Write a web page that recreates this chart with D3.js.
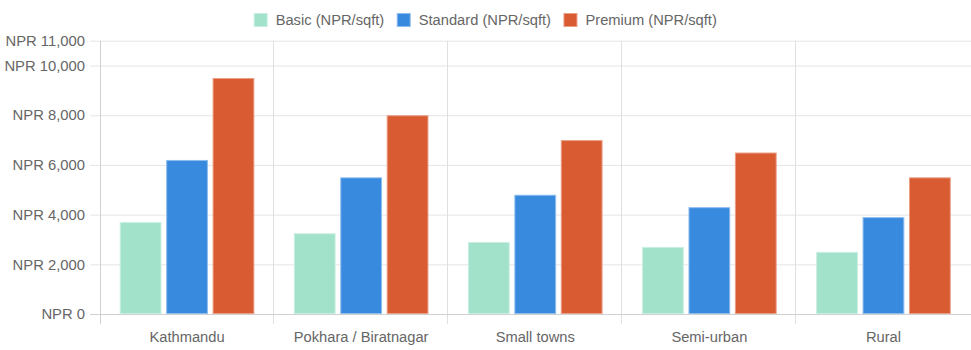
<!DOCTYPE html>
<html>
<head>
<meta charset="utf-8">
<script src="https://cdn.jsdelivr.net/npm/d3@7"></script>
<style>
  html, body { margin: 0; padding: 0; background: #fff; }
  svg { display: block; font-family: "Liberation Sans", Arial, Helvetica, sans-serif; }
</style>
</head>
<body>
<svg id="chart" width="971" height="350"></svg>
<script>
// Construction cost per square foot by location
const categories = ["Kathmandu", "Pokhara / Biratnagar", "Small towns", "Semi-urban", "Rural"];
const basic = [3700, 3250, 2900, 2700, 2500];
const standard = [6200, 5500, 4800, 4300, 3900];
const premium = [9500, 8000, 7000, 6500, 5500];
const seriesNames = ["Basic (NPR/sqft)", "Standard (NPR/sqft)", "Premium (NPR/sqft)"];
const yTicks = [0, 2000, 4000, 6000, 8000, 10000, 11000];

const colors = ["#a2e2cb", "#388ade", "#d95b32"];
const borders = ["#c8efe1", "#8fbdee", "#ea9f86"];

const W = 971, H = 350;
const m = { left: 100, right: 0.5, top: 40.7, bottom: 36 };
const svg = d3.select("#chart");

const x0 = d3.scaleBand().domain(categories).range([m.left, W - m.right]).paddingInner(0).paddingOuter(0);
const x1 = d3.scaleBand().domain(d3.range(3))
  .range([x0.bandwidth() * 0.1, x0.bandwidth() * 0.9]).paddingInner(0.1).paddingOuter(0.05);
const y = d3.scaleLinear().domain([0, 11000]).range([H - m.bottom, m.top]);

const fmt = v => "NPR " + d3.format(",")(v);

// horizontal grid with value labels
const gy = svg.append("g").attr("transform", `translate(${m.left},0)`)
  .call(d3.axisLeft(y).tickValues(yTicks).tickFormat(fmt).tickSize(10).tickPadding(5));
gy.select(".domain").remove();
gy.selectAll(".tick line").attr("stroke", "#e5e5e5").attr("x1", -10).attr("x2", W - m.left);
gy.selectAll(".tick text").attr("fill", "#666").attr("font-size", "14.8px")
  .attr("font-family", "Liberation Sans, Arial, sans-serif");

// vertical grid lines between categories
const inner = categories.slice(1).map(c => x0(c));
svg.append("g").selectAll("line").data(inner).join("line")
  .attr("x1", d => Math.round(d) - 0.5).attr("x2", d => Math.round(d) - 0.5)
  .attr("y1", m.top).attr("y2", H - m.bottom + 10)
  .attr("stroke", "#e0e0e0");

// axis lines
svg.append("line").attr("x1", m.left + 0.5).attr("x2", m.left + 0.5)
  .attr("y1", m.top).attr("y2", H - m.bottom + 10).attr("stroke", "#d0d0d0");
svg.append("line").attr("x1", m.left - 10).attr("x2", W)
  .attr("y1", y(0) + 0.5).attr("y2", y(0) + 0.5).attr("stroke", "#d0d0d0");

// grouped bars
const data = [basic, standard, premium];
const g = svg.append("g");
data.forEach((vals, si) => {
  g.selectAll(".s" + si).data(vals).join("rect")
    .attr("class", "s" + si)
    .attr("x", (d, i) => x0(categories[i]) + x1(si) + 0.5)
    .attr("y", d => y(d) + 0.5)
    .attr("width", x1.bandwidth() - 1)
    .attr("height", d => y(0) - y(d) - 1)
    .attr("fill", colors[si])
    .attr("stroke", borders[si])
    .attr("stroke-width", 1);
});

// category labels
svg.append("g").selectAll("text").data(categories).join("text")
  .attr("x", d => x0(d) + x0.bandwidth() / 2)
  .attr("y", 342)
  .attr("text-anchor", "middle")
  .attr("fill", "#666").attr("font-size", "14.7px")
  .text(d => d);

// legend, centred across the top
const lg = svg.append("g");
const items = lg.selectAll("g").data(seriesNames).join("g");
items.append("rect").attr("width", 13).attr("height", 13).attr("y", 13.5)
  .attr("fill", (d, i) => colors[i]).attr("stroke", (d, i) => borders[i]);
items.append("text").attr("x", 21.5).attr("y", 25).attr("fill", "#666")
  .attr("font-size", "14.7px").text(d => d);
const widths = [];
items.each(function () {
  widths.push(this.querySelector("text").getComputedTextLength() + 21.5);
});
const gap = 13;
const total = d3.sum(widths) + gap * (widths.length - 1);
let start = (W - total) / 2;
items.attr("transform", (d, i) => {
  const tx = start;
  start += widths[i] + gap;
  return `translate(${tx},0)`;
});
</script>
</body>
</html>
